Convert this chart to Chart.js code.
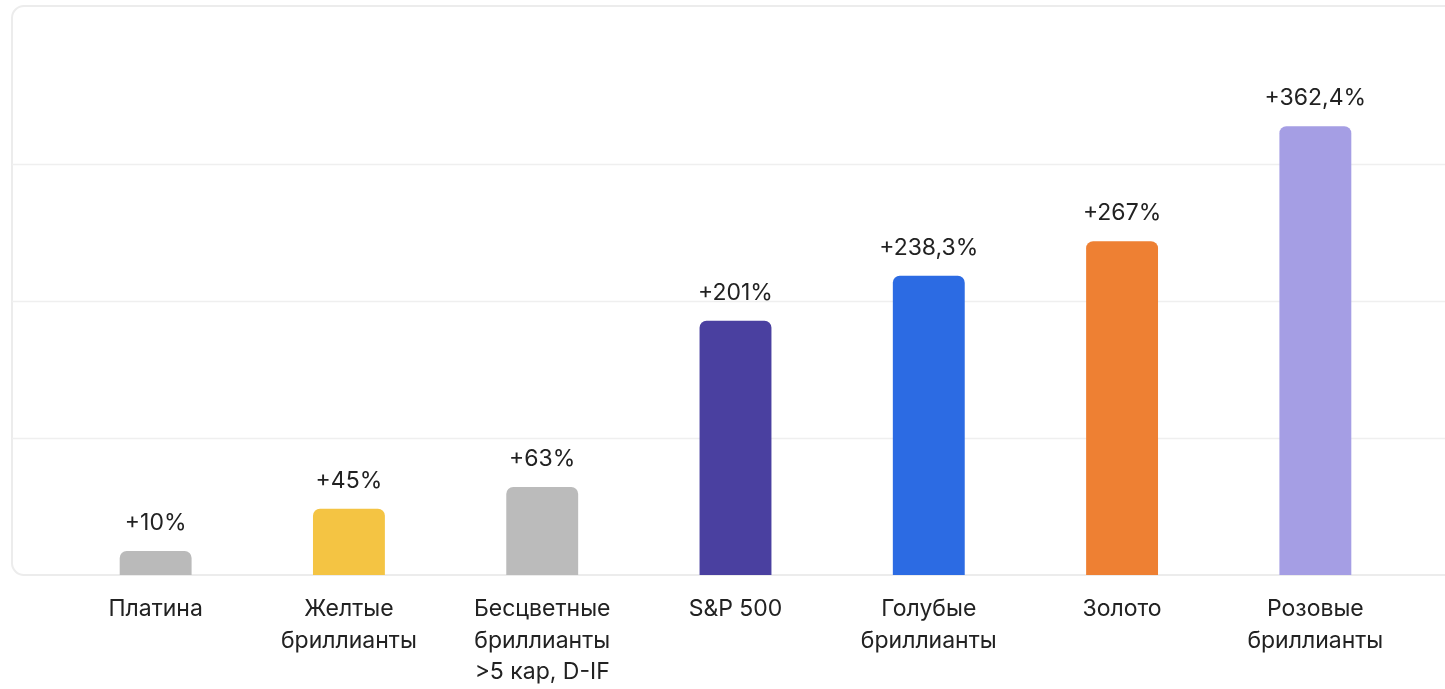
<!DOCTYPE html>
<html>
<head>
<meta charset="utf-8">
<script src="https://cdn.jsdelivr.net/npm/chart.js@4/dist/chart.umd.min.js"></script>
<style>
  html, body { margin: 0; padding: 0; background: #ffffff; }
  #wrap { width: 1445px; height: 689px; position: relative; }
</style>
</head>
<body>
<div id="wrap"><canvas id="c" width="1445" height="689"></canvas></div>
<script>
// ---- data ----
const categories = [
  ['Платина'],
  ['Желтые', 'бриллианты'],
  ['Бесцветные', 'бриллианты', '>5 кар, D-IF'],
  ['S&P 500'],
  ['Голубые', 'бриллианты'],
  ['Золото'],
  ['Розовые', 'бриллианты']
];
const growthPct = [10, 45, 63, 201, 238.3, 267, 362.4];
const barColors = ['#bababa', '#f4c443', '#bbbbbb', '#4a40a0', '#2c6be3', '#ee8033', '#a59ee4'];

// value-axis layout (no tick labels shown in the original)
const axisFloor = -10;
const gridStep = 113.7;
const gridCount = 3;
const axisTop = axisFloor + 4 * gridStep;

const fmt = v => '+' + String(v).replace('.', ',') + '%';

const cardPlugin = {
  id: 'card',
  beforeDraw(chart) {
    const ctx = chart.ctx;
    const y = chart.scales.y;
    const bottom = y.getPixelForValue(axisFloor);
    ctx.save();
    ctx.strokeStyle = '#ececec';
    ctx.lineWidth = 2;
    ctx.beginPath();
    ctx.roundRect(12, 6, chart.width + 20, bottom - 6, 12);
    ctx.stroke();
    ctx.strokeStyle = '#efefef';
    ctx.lineWidth = 1.5;
    for (let i = 1; i <= gridCount; i++) {
      const py = Math.round(y.getPixelForValue(axisFloor + i * gridStep)) + 0.5;
      ctx.beginPath();
      ctx.moveTo(12, py);
      ctx.lineTo(chart.width, py);
      ctx.stroke();
    }
    ctx.restore();
  }
};

const labelPlugin = {
  id: 'valueLabels',
  afterDatasetsDraw(chart) {
    const ctx = chart.ctx;
    const meta = chart.getDatasetMeta(0);
    ctx.save();
    ctx.font = '400 23px Inter, "Noto Sans", sans-serif';
    ctx.fillStyle = '#222222';
    ctx.textAlign = 'center';
    ctx.textBaseline = 'middle';
    meta.data.forEach((el, i) => {
      ctx.fillText(fmt(growthPct[i]), el.x, el.y - 28);
    });
    ctx.restore();
  }
};

new Chart(document.getElementById('c'), {
  type: 'bar',
  data: {
    labels: categories,
    datasets: [{
      data: growthPct,
      backgroundColor: barColors,
      borderRadius: { topLeft: 7, topRight: 7 },
      borderSkipped: 'bottom',
      base: axisFloor,
      categoryPercentage: 1,
      barPercentage: 0.372
    }]
  },
  options: {
    responsive: false,
    animation: false,
    layout: { padding: { left: 59, right: 33, top: 27, bottom: 0 } },
    plugins: { legend: { display: false }, tooltip: { enabled: false } },
    scales: {
      x: {
        grid: { display: false, drawTicks: false },
        border: { display: false },
        ticks: {
          color: '#222222',
          font: { family: 'Inter, "Noto Sans", sans-serif', size: 23, lineHeight: 1.38 },
          padding: 18,
          maxRotation: 0,
          autoSkip: false
        },
        afterFit(scale) { scale.height = 114; }
      },
      y: {
        display: false,
        min: axisFloor,
        max: axisTop
      }
    }
  },
  plugins: [cardPlugin, labelPlugin]
});
</script>
</body>
</html>
